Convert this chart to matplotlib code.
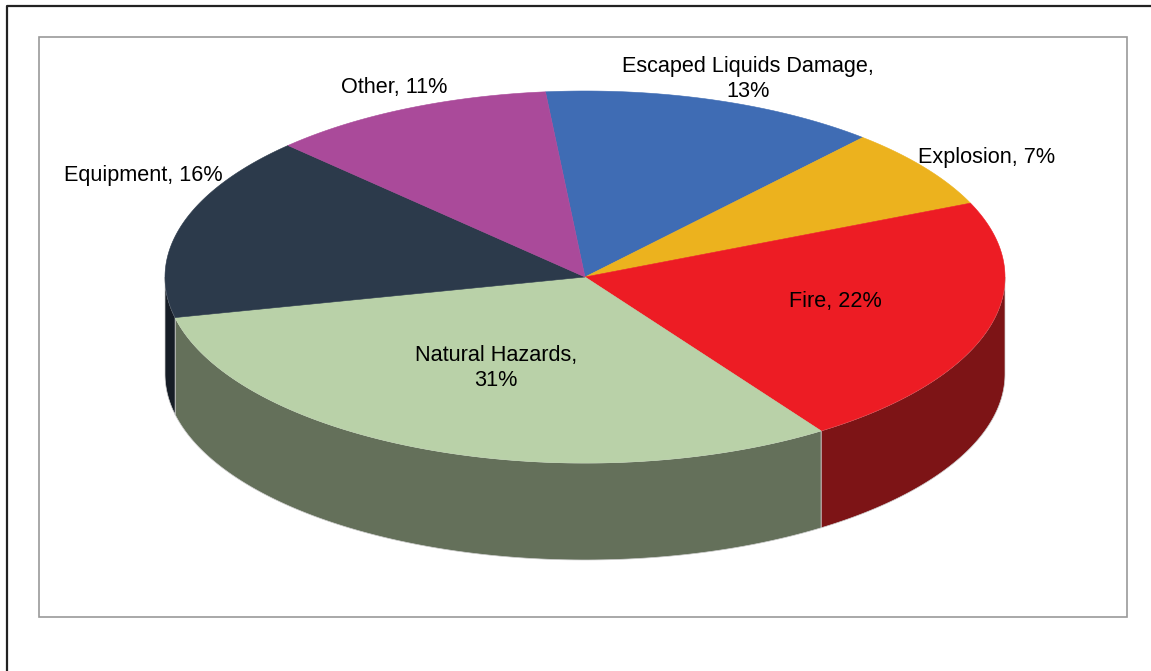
import numpy as np
import matplotlib
matplotlib.use("Agg")
import matplotlib.pyplot as plt
from matplotlib.patches import Polygon, Rectangle

# causes of loss, clockwise from the top
categories = ["Escaped Liquids Damage", "Explosion", "Fire", "Natural Hazards", "Equipment", "Other"]
shares = [13, 7, 22, 31, 16, 11]

top_colors = ["#3F6CB4", "#ECB21E", "#ED1C24", "#B9D1A8", "#2C3A4B", "#AA4A9A"]
side_colors = ["#26416C", "#8E6B12", "#7D1416", "#64705A", "#161D26", "#662C5C"]

# label text and where it sits (pixels)
label_text = ["Escaped Liquids Damage,\n13%", "Explosion, 7%", "Fire, 22%",
              "Natural Hazards,\n31%", "Equipment, 16%", "Other, 11%"]
label_pos = [(748, 79), (987, 158), (835, 302), (496, 368), (143, 175), (394, 88)]

# pie geometry in pixels
CX, CY = 585, 277
RX, RY = 420, 186
DEPTH = 97
START = 95.4


def arc(t0, t1, n=120, drop=0):
    t = np.radians(np.linspace(t0, t1, n))
    return np.column_stack([CX + RX * np.cos(t), CY - RY * np.sin(t) + drop])


fig = plt.figure(figsize=(11.51, 6.71), dpi=100)
ax = fig.add_axes([0, 0, 1, 1])
ax.set_xlim(0, 1151)
ax.set_ylim(671, 0)
ax.axis("off")

# outer and inner frames
ax.plot([7, 7, 1151], [671, 6, 6], color="#222222", lw=1.6)
ax.add_patch(Rectangle((39, 37), 1088, 580, fill=False, edgecolor="#9a9a9a", lw=1.2))

# slice angle ranges (degrees, going clockwise)
ends = START - 360 * np.cumsum(shares) / sum(shares)
starts = np.concatenate([[START], ends[:-1]])

# side walls for the visible front half
for s, e, c in zip(starts, ends, side_colors):
    for lo, hi in [(-180, 0), (-540, -360)]:
        a, b = max(e, lo), min(s, hi)
        if a < b:
            top = arc(b, a)
            bot = arc(a, b, drop=DEPTH)
            ax.add_patch(Polygon(np.vstack([top, bot]), closed=True, facecolor=c,
                                 edgecolor="#cfcfcf", lw=0.5, zorder=2))

# top faces
for s, e, c in zip(starts, ends, top_colors):
    pts = np.vstack([[CX, CY], arc(s, e)])
    ax.add_patch(Polygon(pts, closed=True, facecolor=c, edgecolor=c,
                         lw=0.4, zorder=3))

for txt, (x, y) in zip(label_text, label_pos):
    ax.text(x, y, txt, ha="center", va="center", fontsize=15.6,
            family="Liberation Sans", color="black", linespacing=1.3, zorder=4)

fig.savefig("out.png", dpi=100)
